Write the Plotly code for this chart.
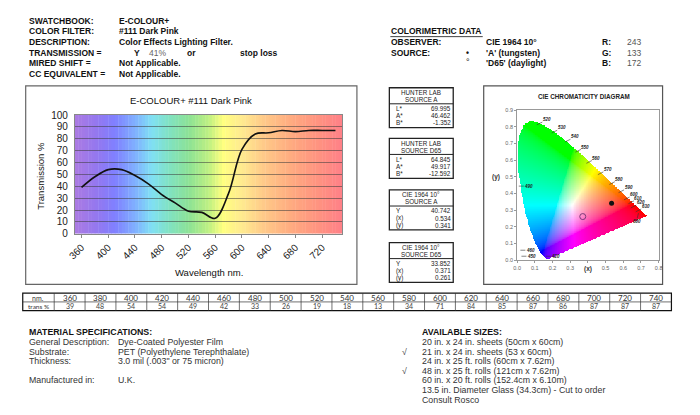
import numpy as np
import plotly.graph_objects as go

W, H = 700, 415
ARIAL = "Liberation Sans, Arial, sans-serif"
CALIBRI = "Lato, Open Sans, sans-serif"

# ---- transmission curve (table values)
wavelength_nm = list(range(360, 741, 20))
transmission_pct = [39, 48, 54, 54, 49, 42, 33, 26, 19, 18, 13, 34, 71, 84, 85, 87, 86, 87, 87, 87]
x_tick_nm = list(range(360, 721, 40))

# ---- header block
header_labels = ["SWATCHBOOK:", "COLOR FILTER:", "DESCRIPTION:", "TRANSMISSION =",
                 "MIRED SHIFT =", "CC EQUIVALENT ="]
header_values = ["E-COLOUR+", "#111 Dark Pink", "Color Effects Lighting Filter.", "",
                 "Not Applicable.", "Not Applicable."]
transmission_y = "41%"

rgb_labels = ["R:", "G:", "B:"]
rgb_values = [243, 133, 172]

# ---- colorimetric boxes
box_titles = [("HUNTER LAB", "SOURCE A"), ("HUNTER LAB", "SOURCE D65"),
              ("CIE 1964 10°", "SOURCE A"), ("CIE 1964 10°", "SOURCE D65")]
hunter_labels = ["L*", "A*", "B*"]
cie_labels = ["Y", "(x)", "(y)"]
hunter_a = [69.995, 46.462, -1.352]
hunter_d65 = [64.845, 49.917, -12.592]
cie_a = [40.742, 0.534, 0.341]
cie_d65 = [33.852, 0.371, 0.261]

# ---- spectral locus (CIE 1931 chromaticity)
locus_nm = [380, 400, 420, 430, 440, 450, 460, 465, 470, 475, 480, 485, 490, 495, 500, 505,
            510, 515, 520, 525, 530, 535, 540, 545, 550, 555, 560, 565, 570, 575, 580, 585,
            590, 595, 600, 610, 620, 630, 640, 650, 660, 680, 700]
locus_x = [0.1741, 0.1733, 0.1714, 0.1689, 0.1644, 0.1566, 0.1440, 0.1355, 0.1241, 0.1096,
           0.0913, 0.0687, 0.0454, 0.0235, 0.0082, 0.0039, 0.0139, 0.0389, 0.0743, 0.1142,
           0.1547, 0.1929, 0.2296, 0.2658, 0.3016, 0.3373, 0.3731, 0.4087, 0.4441, 0.4788,
           0.5125, 0.5448, 0.5752, 0.6029, 0.6270, 0.6658, 0.6915, 0.7079, 0.7190, 0.7260,
           0.7300, 0.7334, 0.7347]
locus_y = [0.0050, 0.0048, 0.0051, 0.0069, 0.0109, 0.0177, 0.0297, 0.0399, 0.0578, 0.0868,
           0.1327, 0.2007, 0.2950, 0.4127, 0.5384, 0.6548, 0.7502, 0.8120, 0.8338, 0.8262,
           0.8059, 0.7816, 0.7543, 0.7243, 0.6923, 0.6589, 0.6245, 0.5896, 0.5547, 0.5202,
           0.4866, 0.4544, 0.4242, 0.3965, 0.3725, 0.3340, 0.3083, 0.2920, 0.2809, 0.2740,
           0.2700, 0.2666, 0.2653]

# wavelength labels around the locus (text positions)
label_nm = [510, 520, 530, 540, 550, 560, 570, 580, 590, 600, 610, 620, 630,
            680, 500, 490, 480, 470, 460, 450, 420]
label_x = [0.037, 0.167, 0.251, 0.326, 0.385, 0.447, 0.512, 0.577, 0.629, 0.660, 0.685, 0.698,
           0.726, 0.675, 0.043, 0.065, 0.037, 0.043, 0.074, 0.080, 0.218]
label_y = [0.828, 0.841, 0.792, 0.738, 0.677, 0.610, 0.542, 0.483, 0.434, 0.391, 0.368, 0.342,
           0.319, 0.235, 0.679, 0.444, 0.211, 0.108, 0.059, 0.023, 0.023]

# ---- bottom table / specs
material_labels = ["General Description:", "Substrate:", "Thickness:", "Manufactured in:"]
material_values = ["Dye-Coated Polyester Film", "PET (Polyethylene Terephthalate)",
                   "3.0 mil (.003\" or 75 micron)", "U.K."]
sizes = ["20 in. x 24 in. sheets (50cm x 60cm)", "21 in. x 24 in. sheets (53 x 60cm)",
         "24 in. x 25 ft. rolls (60cm x 7.62m)", "48 in. x 25 ft. rolls (121cm x 7.62m)",
         "60 in. x 20 ft. rolls (152.4cm x 6.10m)",
         "13.5 in. Diameter Glass (34.3cm) - Cut to order", "Consult Rosco"]
size_checked = [False, True, False, True, False, False, False]

# spectrum backdrop colours
spectrum_stops = [(350, (172, 122, 226)), (385, (146, 120, 240)), (410, (128, 128, 255)),
                  (440, (128, 176, 255)), (465, (128, 224, 244)), (490, (128, 226, 196)),
                  (520, (140, 226, 150)), (550, (190, 240, 130)), (572, (255, 255, 128)),
                  (600, (255, 234, 144)), (635, (255, 200, 136)), (675, (255, 170, 128)),
                  (715, (255, 146, 128)), (750, (255, 128, 136))]

ann, shp = [], []


def add_text(x, y, s, size=8.5, color="#111", xanchor="left", family=ARIAL, **kw):
    ann.append(dict(xref="paper", yref="paper", x=x / W, y=1 - y / H, text=s, showarrow=False,
                    xanchor=xanchor, yanchor="middle", borderpad=0,
                    font=dict(family=family, size=size, color=color), **kw))


def add_rect(x0, y0, x1, y1, color="#333", width=1):
    shp.append(dict(type="rect", xref="paper", yref="paper", x0=x0 / W, x1=x1 / W,
                    y0=1 - y1 / H, y1=1 - y0 / H, line=dict(color=color, width=width)))


def add_line(x0, y0, x1, y1, color="#333", width=1):
    shp.append(dict(type="line", xref="paper", yref="paper", x0=x0 / W, x1=x1 / W,
                    y0=1 - y0 / H, y1=1 - y1 / H, line=dict(color=color, width=width)))


def spectrum_color(w):
    for (w0, c0), (w1, c1) in zip(spectrum_stops[:-1], spectrum_stops[1:]):
        if w0 <= w <= w1:
            t = (w - w0) / (w1 - w0)
            c = [round(a + (b - a) * t) for a, b in zip(c0, c1)]
            return "rgb(%d,%d,%d)" % tuple(c)
    return "rgb(%d,%d,%d)" % spectrum_stops[-1][1]


fig = go.Figure()

# ---------------- header
for i, (lab, val) in enumerate(zip(header_labels, header_values)):
    y = 16 + 11 * i
    add_text(20, y, "<b>%s</b>" % lab)
    if val:
        add_text(112, y, "<b>%s</b>" % val)
add_text(127, 49, "<b>Y</b>")
add_text(142, 49, transmission_y, color="#666")
add_text(181, 49, "<b>or</b>")
add_text(235, 49, "<b>stop loss</b>")

add_text(389, 27, "<b>COLORIMETRIC DATA</b>")
add_line(389, 32.5, 483, 32.5, color="#111", width=0.8)
add_text(389, 38, "<b>OBSERVER:</b>")
add_text(485, 38, "<b>CIE 1964 10°</b>")
add_text(389, 49, "<b>SOURCE:</b>")
add_text(468, 49, "<b>•</b>", xanchor="center")
add_text(485, 49, "<b>'A' (tungsten)</b>")
add_text(468, 59, "°", xanchor="center", size=9)
add_text(485, 60, "<b>'D65' (daylight)</b>")
for i, (lab, val) in enumerate(zip(rgb_labels, rgb_values)):
    add_text(603, 38 + 11 * i, "<b>%s</b>" % lab)
    add_text(629, 38 + 11 * i, str(val), color="#555")

# ---------------- transmission chart
add_rect(18, 83, 355, 287, color="#666", width=1.2)
add_text(186, 98, "E-COLOUR+ #111 Dark Pink", size=9.5, xanchor="center")
add_text(33, 175, "Transmission %", size=9.5, xanchor="center", textangle=-90)
add_text(204, 275, "Wavelength nm.", size=9.5, xanchor="center")

for w0 in range(350, 750, 5):
    shp.append(dict(type="rect", xref="x", yref="y", x0=w0, x1=min(w0 + 5.6, 750), y0=0, y1=100,
                    fillcolor=spectrum_color(w0 + 2.5), line=dict(width=0), layer="below"))

fig.add_trace(go.Scatter(x=wavelength_nm, y=transmission_pct, mode="lines",
                         line=dict(color="#111", width=1.6, shape="spline", smoothing=1.0),
                         hoverinfo="skip", xaxis="x", yaxis="y"))

# ---------------- colorimetric boxes
box_tops = [85, 137, 190, 244]
box_data = [(hunter_labels, hunter_a), (hunter_labels, hunter_d65),
            (cie_labels, cie_a), (cie_labels, cie_d65)]
for top, (t1, t2), (labs, vals) in zip(box_tops, box_titles, box_data):
    add_rect(388, top, 453, top + 41, color="#222", width=1.3)
    add_line(388, top + 16.5, 453, top + 16.5, color="#222", width=1)
    add_text(420.5, top + 4.8, t1, size=6.3, xanchor="center", color="#222")
    add_text(420.5, top + 12.3, t2, size=6.3, xanchor="center", color="#222")
    for j, (lab, v) in enumerate(zip(labs, vals)):
        add_text(394, top + 21.5 + 7.3 * j, lab, size=6.3, color="#222")
        add_text(452, top + 21.5 + 7.3 * j, "%.3f" % v, size=6.3, xanchor="right", color="#222")

# ---------------- CIE chromaticity diagram
add_rect(484, 83, 666, 287, color="#555", width=1.2)
add_text(586, 94, "<b>CIE CHROMATICITY DIAGRAM</b>", size=6.3, xanchor="center", color="#222")

step = 0.004
gx = (np.arange(200) + 0.5) * step
gy = (np.arange(225) + 0.5) * step
X, Y = np.meshgrid(gx, gy)
vx, vy = np.array(locus_x), np.array(locus_y)
inside = np.zeros(X.shape, dtype=bool)
j = len(vx) - 1
for i in range(len(vx)):
    cross = ((vy[i] > Y) != (vy[j] > Y)) & \
            (X < (vx[j] - vx[i]) * (Y - vy[i]) / (vy[j] - vy[i] + 1e-12) + vx[i])
    inside ^= cross
    j = i
Yc = np.maximum(Y, 1e-4)
xyz = np.stack([X / Yc, np.ones_like(X), (1 - X - Y) / Yc])
M = np.array([[3.2406, -1.5372, -0.4986], [-0.9689, 1.8758, 0.0415], [0.0557, -0.2040, 1.0570]])
lin = np.tensordot(M, xyz, axes=1)
lin = np.clip(lin, 0, None)
lin = lin / np.maximum(lin.max(axis=0), 1e-9)
srgb = np.where(lin <= 0.0031308, 12.92 * lin, 1.055 * np.power(lin, 1 / 2.4) - 0.055)
img = np.moveaxis(np.round(srgb * 255), 0, -1).astype(np.uint8)
img[~inside] = 255
fig.add_trace(go.Image(z=img.tolist(), x0=step / 2, dx=step, y0=step / 2, dy=step,
                       xaxis="x2", yaxis="y2", hoverinfo="skip"))

fig.add_trace(go.Scatter(x=[cie_a[1]], y=[cie_a[2]], mode="markers",
                         marker=dict(color="#111", size=5), xaxis="x2", yaxis="y2", hoverinfo="skip"))
fig.add_trace(go.Scatter(x=[cie_d65[1]], y=[cie_d65[2]], mode="markers",
                         marker=dict(color="#7a3a7a", size=6, symbol="circle-open", line=dict(width=1)),
                         xaxis="x2", yaxis="y2", hoverinfo="skip"))

right_side = set(range(510, 640, 10))
for nm, lx, ly in zip(label_nm, label_x, label_y):
    if nm in right_side:
        ax, ay = 10, -5
    elif nm == 680:
        ax, ay = -2, 8
    else:
        ax, ay = 10, 0
    ann.append(dict(xref="x2", yref="y2", x=lx - ax / 180.0, y=ly + ay / 171.0, ax=ax, ay=ay,
                    text="<b><i>%d</i></b>" % nm, showarrow=True, arrowhead=0, arrowwidth=0.6,
                    arrowcolor="#333", standoff=0, borderpad=0,
                    font=dict(family=ARIAL, size=4.5, color="#222")))
add_text(497, 177, "<b>(y)</b>", size=6.5, color="#333", xanchor="center")
add_text(590, 271, "<b>(x)</b>", size=6.5, color="#333", xanchor="center")

# ---------------- data table
tab_left, lab_right, tab_right = 15, 47, 675
col_w = (tab_right - lab_right) / len(wavelength_nm)
add_rect(tab_left, 296, tab_right, 314, color="#111", width=1.2)
add_line(tab_left, 305, tab_right, 305, color="#333", width=0.7)
add_line(lab_right, 296, lab_right, 314, color="#333", width=0.7)
for k in range(1, len(wavelength_nm)):
    add_line(lab_right + k * col_w, 296, lab_right + k * col_w, 314, color="#333", width=0.7)
add_text((tab_left + lab_right) / 2, 300.7, "nm.", size=7, xanchor="center", family=CALIBRI, color="#333")
add_text((tab_left + lab_right) / 2, 309.7, "trans %", size=6.5, xanchor="center", family=CALIBRI, color="#333")
for k, (nm, t) in enumerate(zip(wavelength_nm, transmission_pct)):
    cx = lab_right + (k + 0.5) * col_w
    add_text(cx, 300.7, str(nm), size=8, xanchor="center", family=CALIBRI, color="#333")
    add_text(cx, 309.7, str(t), size=7, xanchor="center", family=CALIBRI, color="#444")

# ---------------- material specifications / sizes
add_text(20, 336, "<b>MATERIAL SPECIFICATIONS:</b>", size=8.8)
for lab, val, y in zip(material_labels, material_values, [346, 356, 366, 385]):
    add_text(20, y, lab, size=8.8, color="#333")
    add_text(111, y, val, size=8.8, color="#333")

add_text(420, 336, "<b>AVAILABLE SIZES:</b>", size=8.8)
for i, (s, chk) in enumerate(zip(sizes, size_checked)):
    y = 346.5 + 9.8 * i
    add_text(420, y, s, size=8.8, color="#333")
    if chk:
        add_text(403, y, "√", size=8.8, color="#333", xanchor="center")

fig.update_layout(
    width=W, height=H, margin=dict(l=0, r=0, t=0, b=0),
    paper_bgcolor="white", plot_bgcolor="white", showlegend=False,
    font=dict(family=ARIAL, color="#222"),
    xaxis=dict(domain=[68 / W, 340 / W], range=[350, 750], tickvals=x_tick_nm, tickangle=-45,
               tickfont=dict(size=10, color="#222"), showgrid=False, zeroline=False,
               showline=True, linecolor="#888", mirror=True, ticks="outside", ticklen=3,
               tickcolor="#888", anchor="y", fixedrange=True),
    yaxis=dict(domain=[1 - 235 / H, 1 - 113 / H], range=[0, 100], dtick=10,
               tickfont=dict(size=10, color="#222"), showgrid=True,
               gridcolor="rgba(60,60,60,0.55)", gridwidth=0.8, zeroline=False,
               showline=True, linecolor="#888", mirror=True, ticks="outside", ticklen=4,
               tickcolor="rgba(0,0,0,0)", anchor="x", fixedrange=True),
    xaxis2=dict(domain=[518 / W, 662 / W], range=[0, 0.8],
                tickvals=[0, 0.1, 0.2, 0.3, 0.4, 0.5, 0.6, 0.7, 0.8],
                ticktext=["0.0", "0.1", "0.2", "0.3", "", "0.5", "0.6", "0.7", "0.8"],
                tickfont=dict(size=5.5, color="#666"), showgrid=False, zeroline=False,
                showline=True, linecolor="#999", mirror=True, ticks="outside", ticklen=2,
                tickcolor="#999", anchor="y2", fixedrange=True),
    yaxis2=dict(domain=[1 - 262 / H, 1 - 108 / H], range=[0, 0.9], dtick=0.1, tickformat=".1f",
                tickfont=dict(size=5.5, color="#666"), showgrid=False, zeroline=False,
                showline=True, linecolor="#999", mirror=True, ticks="outside", ticklen=2,
                tickcolor="#999", anchor="x2", scaleanchor=False, autorange=False,
                fixedrange=True),
    annotations=ann, shapes=shp,
)

# the page body has a default 8px margin; drop it so the 700x415 figure fills the window
fig.write_html("out.html", config={"displayModeBar": False},
               post_script="document.body.style.margin='0px';")
